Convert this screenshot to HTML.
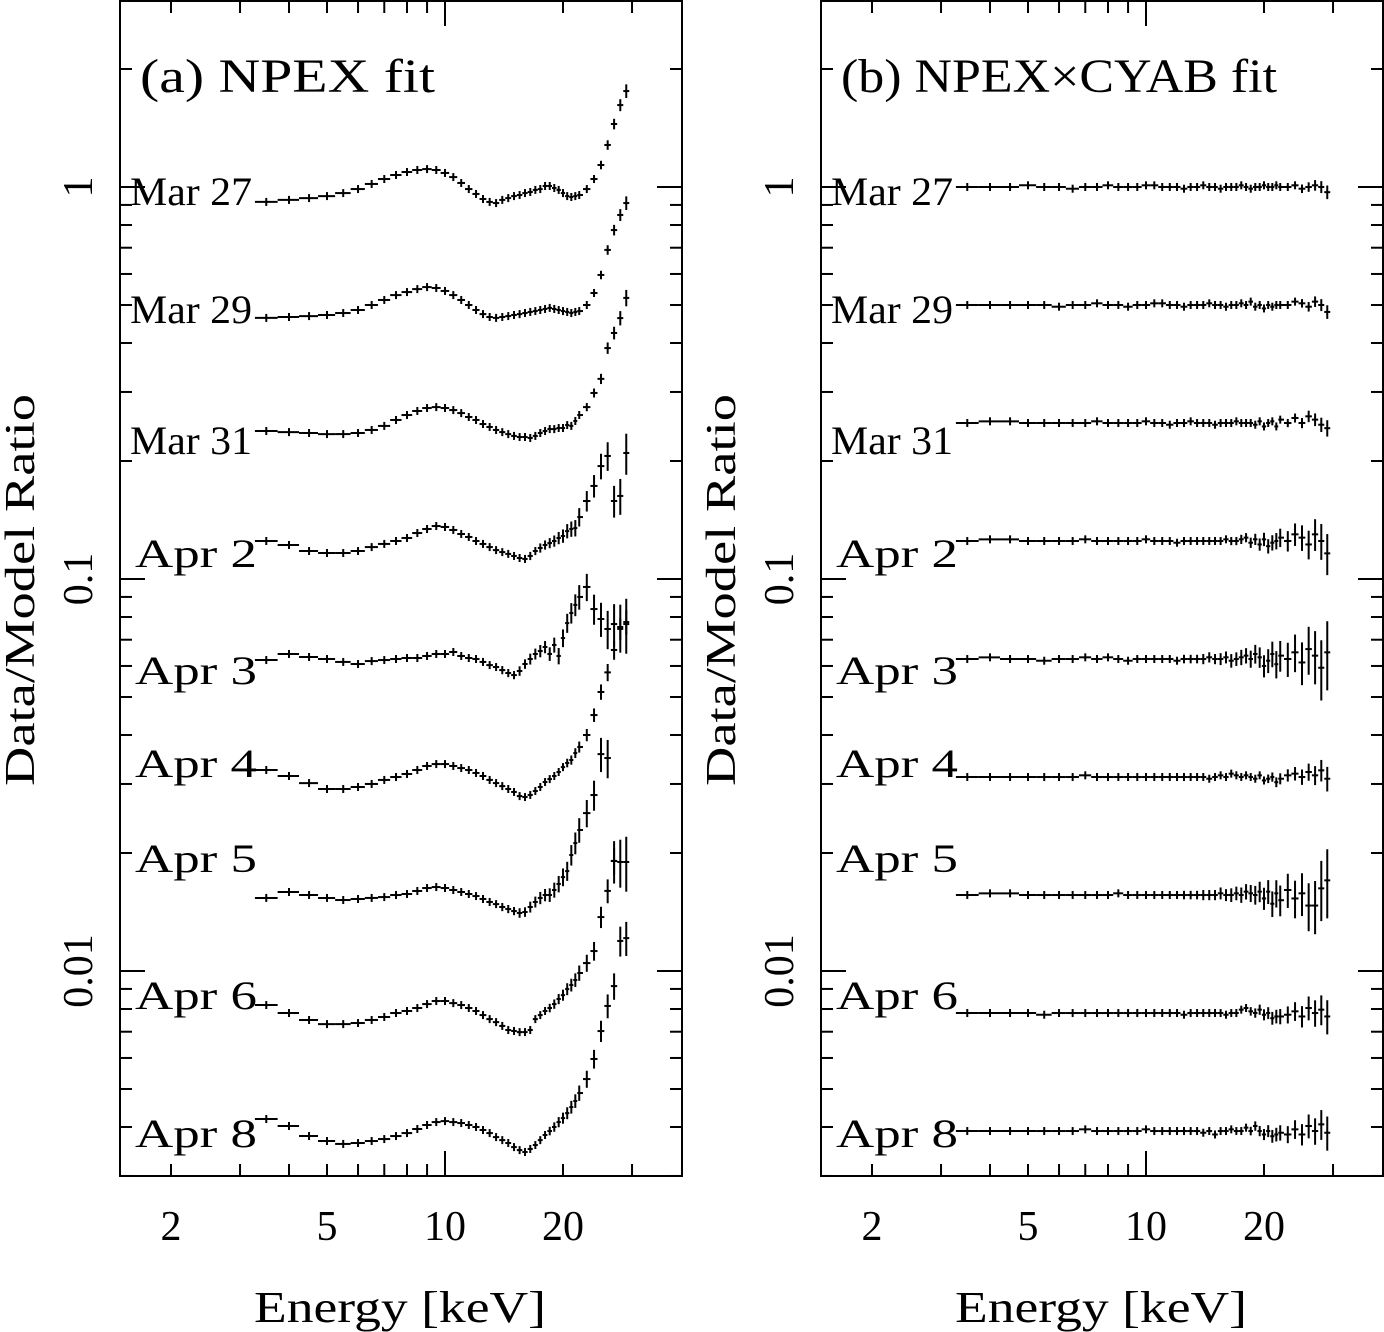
<!DOCTYPE html>
<html><head><meta charset="utf-8"><title>Data/Model Ratio</title>
<style>
html,body{margin:0;padding:0;background:#fff;}
svg{display:block;}
text{font-family:"Liberation Serif","DejaVu Serif",serif;fill:#000;}
</style></head>
<body>
<svg id="chart" xmlns="http://www.w3.org/2000/svg" width="1384" height="1332" viewBox="0 0 1384 1332"></svg>
<script>
// ---- data ----
const energies = [3.5,4.0,4.5,5.0,5.5,6.0,6.5,7.0,7.5,8.0,8.5,9.0,9.5,10,10.5,11,11.5,12,12.5,13,13.5,14,14.5,15,15.5,16,16.5,17,17.5,18,18.5,19,19.5,20,20.5,21,21.5,22,23,24,25,26,27,28,29];
const dates = ["Mar 27","Mar 29","Mar 31","Apr 2","Apr 3","Apr 4","Apr 5","Apr 6","Apr 8"];
const offsets = [1,0.5,0.25,0.125,0.0625,0.03125,0.015625,0.0078125,0.00390625];
const errFrac = [0.003,0.003,0.003,0.003,0.003,0.003,0.003,0.003,0.003,0.003,0.003,0.003,0.003,0.004,0.004,0.004,0.004,0.004,0.005,0.005,0.005,0.006,0.006,0.006,0.007,0.007,0.008,0.008,0.009,0.009,0.010,0.011,0.012,0.013,0.014,0.015,0.016,0.018,0.020,0.022,0.025,0.028,0.031,0.035,0.040];
const errScaleA = [1,1,1.2,3,4,1.8,4,2.5,2.5];
const errScaleB = [1,1,1.2,3,5,1.8,5,2.5,2.5];

const npexMar27 = [0.916,0.927,0.937,0.948,0.965,0.988,1.018,1.048,1.073,1.092,1.105,1.111,1.105,1.086,1.060,1.024,0.988,0.960,0.932,0.916,0.910,0.927,0.937,0.948,0.954,0.965,0.971,0.983,0.988,1.006,1.006,0.994,0.983,0.965,0.948,0.943,0.948,0.954,0.988,1.048,1.138,1.280,1.448,1.618,1.757];
const npexMar29 = [0.927,0.932,0.937,0.943,0.954,0.971,1,1.030,1.060,1.079,1.098,1.111,1.105,1.086,1.060,1.030,1,0.971,0.948,0.932,0.927,0.932,0.937,0.943,0.948,0.954,0.960,0.965,0.971,0.977,0.983,0.977,0.971,0.965,0.960,0.954,0.960,0.965,1,1.073,1.193,1.382,1.553,1.697,1.820];
const npexMar31 = [0.954,0.948,0.943,0.937,0.937,0.943,0.960,0.983,1.018,1.048,1.073,1.092,1.098,1.092,1.079,1.060,1.036,1.018,0.994,0.977,0.960,0.948,0.937,0.927,0.921,0.921,0.916,0.927,0.943,0.954,0.965,0.965,0.971,0.971,0.988,0.983,1.012,1.048,1.098,1.193,1.296,1.553,1.697,1.852,2.085];
const npexApr2 = [1,0.977,0.943,0.932,0.932,0.943,0.965,0.983,1,1.018,1.048,1.073,1.092,1.086,1.067,1.042,1.024,1,0.983,0.965,0.948,0.937,0.927,0.916,0.905,0.900,0.916,0.943,0.960,0.977,0.988,1,1.018,1.030,1.060,1.073,1.079,1.151,1.265,1.382,1.553,1.648,1.265,1.303,1.677];
const npexApr3 = [0.994,1.030,1.012,1,0.983,0.971,0.988,0.994,1,1.006,1.006,1.018,1.030,1.030,1.042,1.018,1.006,1,0.983,0.965,0.954,0.937,0.921,0.910,0.932,0.971,1,1.030,1.048,1.073,1.030,1.086,1.018,1.131,1.235,1.310,1.374,1.440,1.527,1.341,1.265,1.193,1.228,1.207,1.228];
const npexApr4 = [1.042,1.006,0.965,0.932,0.932,0.943,0.960,0.983,1,1.018,1.042,1.067,1.079,1.079,1.067,1.054,1.042,1.024,1.006,0.983,0.965,0.948,0.932,0.916,0.894,0.889,0.900,0.921,0.943,0.971,0.988,1.006,1.030,1.060,1.086,1.105,1.151,1.193,1.280,1.439,1.648,1.849,2.109,2.387,2.485];
const npexApr5 = [0.983,1.018,1,0.983,0.971,0.977,0.983,0.988,1,1.006,1.024,1.042,1.048,1.042,1.030,1.018,1.006,0.994,0.977,0.960,0.948,0.932,0.921,0.910,0.900,0.905,0.932,0.960,0.983,1,1,1.030,1.067,1.111,1.151,1.265,1.357,1.465,1.618,1.799,2.288,2.236,1.221,1.214,1.214];
const npexApr6 = [1.048,1,0.960,0.937,0.937,0.943,0.960,0.977,1,1.012,1.030,1.054,1.073,1.073,1.060,1.048,1.030,1.012,0.988,0.965,0.948,0.927,0.905,0.900,0.894,0.894,0.905,0.965,0.988,1.012,1.030,1.054,1.086,1.111,1.151,1.179,1.214,1.265,1.341,1.439,1.757,2.049,2.444,1.527,1.553];
const npexApr8 = [1.073,1.030,0.971,0.943,0.927,0.932,0.943,0.954,0.971,0.988,1.012,1.036,1.054,1.060,1.054,1.048,1.036,1.024,1.006,0.988,0.965,0.948,0.932,0.910,0.894,0.884,0.900,0.921,0.948,0.977,1,1.024,1.054,1.079,1.111,1.151,1.193,1.250,1.357,1.527,1.799,2.085,2.343,null,null];

const cyabMar27 = [1.00,1.00,1.00,1.01,1.00,1.00,0.99,1.00,1.00,1.01,1.00,1.00,1.00,1.01,1.01,1.00,1.00,1.00,0.99,1.00,1.00,1.01,1.00,1.00,0.99,1.00,1.00,1.00,1.01,1.00,0.99,1.00,1.00,1.01,1.00,1.00,1.01,1.00,1.00,1.01,0.99,1.00,1.01,1.00,0.97];
const cyabMar29 = [1.00,1.00,1.00,1.00,1.00,0.99,1.00,1.00,1.01,1.00,1.00,0.99,1.00,1.00,1.01,1.01,1.00,1.00,0.99,1.00,1.00,1.00,1.01,1.00,1.00,0.99,1.00,1.00,1.01,1.00,1.02,0.99,1.00,0.98,1.00,0.99,1.00,1.00,1.00,1.02,1.01,0.99,1.02,1.00,0.96];
const cyabMar31 = [1.00,1.01,1.01,1.00,1.00,1.00,1.00,1.00,1.01,1.00,1.00,1.00,1.00,1.01,1.00,1.00,0.99,1.00,1.00,1.01,1.00,1.00,1.00,0.99,1.00,1.00,1.00,1.01,1.00,1.00,1.00,0.99,1.01,0.98,1.00,1.01,0.98,1.02,1.00,1.03,1.00,1.04,1.02,0.99,0.97];
const cyabApr2 = [1.00,1.01,1.01,1.00,1.00,1.00,1.00,1.01,1.00,1.00,1.00,1.00,1.00,1.01,1.00,1.00,1.00,0.99,1.00,1.00,1.00,1.00,1.00,1.00,1.00,1.01,1.00,1.00,1.01,1.02,0.99,1.01,0.98,1.01,0.97,0.99,1.00,1.02,1.00,1.04,1.02,0.98,1.04,1.00,0.93];
const cyabApr3 = [1.00,1.01,1.00,1.00,0.99,1.00,1.00,1.01,1.00,1.01,1.00,0.99,1.00,1.00,1.00,1.00,1.00,0.99,1.00,1.00,1.00,1.00,1.01,1.00,1.00,1.01,0.99,1.00,1.01,1.02,1.00,1.03,1.01,0.96,0.99,1.03,0.97,1.02,1.00,1.04,0.98,1.06,1.02,0.95,1.04];
const cyabApr4 = [1.00,1.00,1.00,1.00,1.00,1.00,1.00,1.01,1.00,1.00,1.00,1.00,1.00,1.00,1.00,1.00,1.00,1.00,1.00,1.00,1.00,1.00,0.99,1.00,1.01,1.00,1.02,1.01,1.00,1.01,1.00,0.99,1.01,0.98,0.99,1.00,0.97,0.99,1.01,1.02,1.00,1.03,1.01,1.04,0.99];
const cyabApr5 = [1.00,1.01,1.01,1.00,1.00,1.00,1.00,1.00,1.00,1.00,1.01,1.00,1.00,1.00,1.00,1.00,1.00,1.00,1.00,1.00,1.00,1.00,1.00,1.00,1.01,1.00,1.00,1.01,1.00,1.02,1.01,1.00,1.02,0.98,1.02,0.95,1.01,0.97,1.03,0.98,1.01,0.94,0.94,1.04,1.09];
const cyabApr6 = [1.00,1.00,1.00,1.00,0.99,1.00,1.00,1.00,1.00,1.00,1.00,1.00,1.00,1.00,1.00,1.00,1.00,1.00,0.99,1.00,1.00,1.00,1.00,1.00,1.00,0.99,1.00,1.00,1.02,1.03,1.01,1.00,1.02,0.99,1.00,0.97,0.98,0.98,0.99,1.01,0.98,1.03,1.00,1.02,0.98];
const cyabApr8 = [1.00,1.00,1.00,1.00,1.00,1.00,1.00,1.01,1.00,1.00,1.00,1.00,1.00,1.01,1.00,1.00,1.00,1.00,1.00,1.00,1.00,0.99,1.00,0.98,1.00,1.00,1.01,1.00,1.00,1.02,1.00,1.03,1.00,0.98,1.00,0.97,0.98,0.99,0.98,1.01,0.98,1.03,1.00,1.04,0.99];

const xTickLabels = ["2","5","10","20"];
const xTickValues = [2,5,10,20];
const yTickLabels = ["1","0.1","0.01"];
const yTickValues = [1,0.1,0.01];

const npexSeries = [npexMar27,npexMar29,npexMar31,npexApr2,npexApr3,npexApr4,npexApr5,npexApr6,npexApr8];
const cyabSeries = [cyabMar27,cyabMar29,cyabMar31,cyabApr2,cyabApr3,cyabApr4,cyabApr5,cyabApr6,cyabApr8];

// ---- layout ----
const NS = "http://www.w3.org/2000/svg";
const svg = document.getElementById('chart');
const DEC = 392, TOP = 1, BOTTOM = 1176;
const labelYs = [205,323,454,567,684,777,872,1009,1147];
const labelXsA = [130,130,130,135,135,135,135,135,135];
function X(E, off) { return 445 + off + DEC * (Math.log10(E) - 1); }
function Y(v) { return 187 - DEC * Math.log10(v); }
function el(tag, attrs, parent) {
  const e = document.createElementNS(NS, tag);
  for (const k in attrs) e.setAttribute(k, attrs[k]);
  (parent || svg).appendChild(e);
  return e;
}

function panel(off, key, title, series, errScale) {
  const L = 120 + off, R = 682 + off;
  const g = el('g', {});
  
  
  const fr = el('rect', {x: L, y: TOP, width: R - L, height: BOTTOM - TOP, fill: 'none', stroke: '#000', 'stroke-width': 2}, g);
  
  
  // x ticks
  const xt = el('g', {stroke: '#000', 'stroke-width': 2}, g);
  
  
  const xMinor = [2,3,4,5,6,7,8,9,10,20,30];
  xMinor.forEach(v => {
    const x = X(v, off), len = (v === 10) ? 25 : 12;
    el('line', {x1: x, y1: BOTTOM, x2: x, y2: BOTTOM - len}, xt);
    el('line', {x1: x, y1: TOP, x2: x, y2: TOP + len}, xt);
  });
  xTickValues.forEach((v, i) => {
    const t = el('text', {x: X(v, off), y: 1240, 'font-size': 42, 'text-anchor': 'middle'}, g);
    t.textContent = xTickLabels[i];
    
    
  });
  const xtitle = el('text', {x: 400 + off, y: 1322, 'font-size': 44, 'text-anchor': 'middle', textLength: 292, lengthAdjust: 'spacingAndGlyphs'}, g);
  xtitle.textContent = 'Energy [keV]';
  
  
  // y ticks
  const yt = el('g', {stroke: '#000', 'stroke-width': 2}, g);
  
  
  [1, 0.1, 0.01, 0.001].forEach(d => {
    for (let m = 1; m <= 9; m++) {
      const v = d * m, y = Y(v);
      if (y < TOP || y > BOTTOM) continue;
      const len = (m === 1) ? 25 : 12;
      el('line', {x1: L, y1: y, x2: L + len, y2: y}, yt);
      el('line', {x1: R, y1: y, x2: R - len, y2: y}, yt);
    }
  });
  yTickValues.forEach((v, i) => {
    const y = Y(v), x = 92 + off;
    const t = el('text', {x: x, y: y, 'font-size': 42, 'text-anchor': 'middle', transform: 'rotate(-90 ' + x + ' ' + y + ')'}, g);
    t.textContent = yTickLabels[i];
    
    
  });
  const yx = 34 + off, yy = 590;
  const ytitle = el('text', {x: yx, y: yy, 'font-size': 42, 'text-anchor': 'middle', textLength: 392, lengthAdjust: 'spacingAndGlyphs', transform: 'rotate(-90 ' + yx + ' ' + yy + ')'}, g);
  ytitle.textContent = 'Data/Model Ratio';
  
  
  // title
  const tt = el('text', {x: 140 + off, y: 92, 'font-size': 48, textLength: key === 'a' ? 295 : 436, lengthAdjust: 'spacingAndGlyphs'}, g);
  tt.textContent = title;
  
  
  // series
  series.forEach((vals, c) => {
    const sg = el('g', {stroke: '#000', 'stroke-width': 2, fill: 'none'}, g);
    
    
    const lab = el('text', {x: labelXsA[c] + off, y: labelYs[c], 'font-size': 40, textLength: 122, lengthAdjust: 'spacingAndGlyphs', stroke: 'none'}, g);
    lab.textContent = dates[c];
    
    
    vals.forEach((r, i) => {
      if (r === null || r === undefined) return;
      const E = energies[i];
      const lo = i > 0 ? Math.sqrt(E * energies[i - 1]) : E * E / Math.sqrt(E * energies[1]);
      const hi = i < energies.length - 1 ? Math.sqrt(E * energies[i + 1]) : E * E / Math.sqrt(E * energies[i - 1]);
      const v = r * offsets[c];
      const e = errFrac[i] * errScale[c];
      const x = X(E, off), y = Y(v);
      const h = el('line', {x1: X(lo, off), y1: y, x2: X(hi, off), y2: y}, sg);
      
      
      const vy1 = Math.min(Y(v * (1 + e)), y - 4), vy2 = Math.max(Y(v * (1 - e)), y + 4);
      const vl = el('line', {x1: x, y1: vy1, x2: x, y2: vy2}, sg);
      
      
    });
  });
}
panel(0, 'a', '(a) NPEX fit', npexSeries, errScaleA);
panel(701, 'b', '(b) NPEX\u00D7CYAB fit', cyabSeries, errScaleB);
</script>
</body></html>
